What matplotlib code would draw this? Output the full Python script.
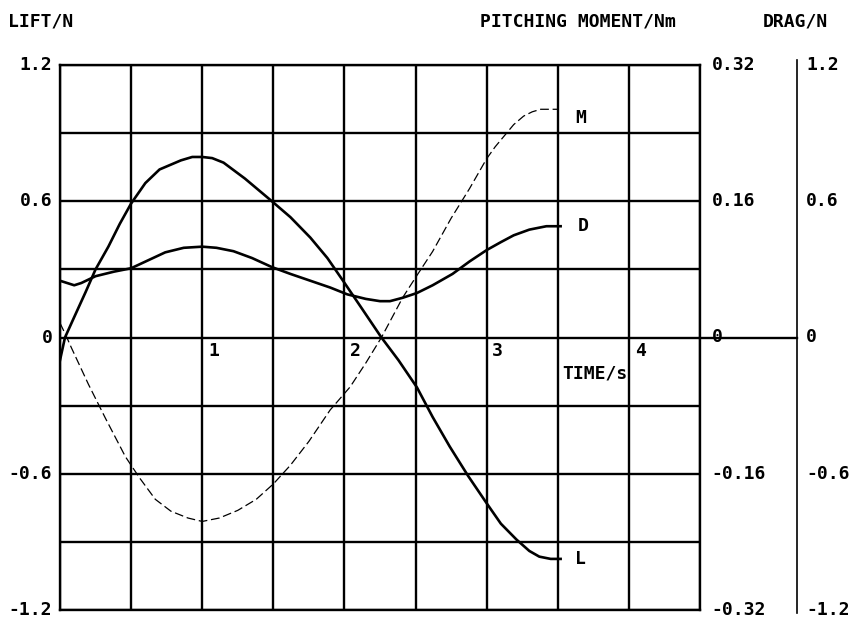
import numpy as np
from matplotlib import pyplot as plt, transforms as mtr

# values
lift_t = [0.0, 0.035, 0.1, 0.18, 0.25, 0.34, 0.42, 0.5, 0.6, 0.7, 0.85, 0.93, 1.0, 1.07,
          1.15, 1.3, 1.49, 1.62, 1.76, 1.88, 1.99, 2.12, 2.26, 2.38, 2.51, 2.62, 2.74,
          2.87, 3.0, 3.1, 3.21, 3.3, 3.37, 3.45, 3.52]
lift = [-0.10, 0.0, 0.09, 0.20, 0.30, 0.40, 0.50, 0.59, 0.68, 0.74, 0.78, 0.795, 0.795,
        0.79, 0.77, 0.70, 0.60, 0.53, 0.44, 0.35, 0.25, 0.13, 0.0, -0.10, -0.22, -0.35,
        -0.48, -0.61, -0.73, -0.82, -0.89, -0.94, -0.965, -0.975, -0.975]

drag_t = [0.0, 0.05, 0.1, 0.15, 0.25, 0.38, 0.5, 0.62, 0.74, 0.87, 1.0, 1.1, 1.22, 1.35,
          1.49, 1.62, 1.76, 1.9, 2.02, 2.15, 2.25, 2.32, 2.41, 2.51, 2.62, 2.76, 2.88,
          3.0, 3.1, 3.19, 3.3, 3.42, 3.52]
drag = [0.25, 0.24, 0.23, 0.24, 0.27, 0.29, 0.305, 0.34, 0.375, 0.395, 0.40, 0.395, 0.38,
        0.35, 0.31, 0.28, 0.25, 0.22, 0.19, 0.17, 0.16, 0.16, 0.175, 0.196, 0.23, 0.28,
        0.335, 0.385, 0.42, 0.45, 0.475, 0.49, 0.49]

mom_t = [0.0, 0.04, 0.08, 0.2, 0.32, 0.46, 0.56, 0.67, 0.78, 0.9, 1.0, 1.12, 1.25, 1.38,
         1.5, 1.62, 1.75, 1.9, 2.04, 2.15, 2.26, 2.41, 2.51, 2.62, 2.75, 2.88, 3.0, 3.06,
         3.12, 3.19, 3.26, 3.32, 3.38, 3.44, 3.5]
moment = [0.017, 0.003, -0.012, -0.055, -0.095, -0.14, -0.165, -0.19, -0.204, -0.212,
          -0.216, -0.212, -0.203, -0.19, -0.172, -0.15, -0.122, -0.085, -0.058, -0.03, 0.0,
          0.047, 0.073, 0.101, 0.14, 0.175, 0.21, 0.224, 0.236, 0.25, 0.26, 0.265, 0.268,
          0.268, 0.268]

time_ticks = [1, 2, 3, 4]
lift_ticks = [(1.2, '1.2'), (0.6, '0.6'), (0, '0'), (-0.6, '-0.6'), (-1.2, '-1.2')]
mom_ticks = [(0.32, '0.32'), (0.16, '0.16'), (0, '0'), (-0.16, '-0.16'), (-0.32, '-0.32')]
drag_ticks = [(1.2, '1.2'), (0.6, '0.6'), (0, '0'), (-0.6, '-0.6'), (-1.2, '-1.2')]

W, H = 855, 621
FONT = dict(family='DejaVu Sans Mono', fontweight='bold', fontsize=13)
LW = 1.7

fig = plt.figure(figsize=(W / 100, H / 100), dpi=100)
ax = fig.add_axes([60 / W, 1 - 610 / H, 640 / W, 545 / H])
ax.set_xlim(0, 4.5)
ax.set_ylim(-1.2, 1.2)
ax.set_xticks(np.arange(0, 4.51, 0.5))
ax.set_yticks(np.arange(-1.2, 1.21, 0.3))
ax.grid(True, color='black', lw=LW)
ax.tick_params(length=0, labelbottom=False, labelleft=False)
for s in ax.spines.values():
	s.set_linewidth(LW)

ax_m = ax.twinx()
ax_m.set_ylim(-0.32, 0.32)
ax_d = ax.twinx()
ax_d.set_ylim(-1.2, 1.2)
for a in (ax_m, ax_d):
	a.axis('off')

ax.plot(lift_t, lift, color='black', lw=1.9, zorder=5, solid_joinstyle='round')
ax_d.plot(drag_t, drag, color='black', lw=1.9, zorder=5, solid_joinstyle='round')
ax_m.plot(mom_t, moment, color='black', lw=0.9, ls=(0, (7, 3)), zorder=5)

# zero line running on to the drag axis, and the drag axis itself
xd = (797 - 60) / 640
ax.plot([1, xd], [0.5, 0.5], transform=ax.transAxes, color='black', lw=LW, clip_on=False)
ax.plot([xd, xd], [-0.005, 1.01], transform=ax.transAxes, color='black', lw=1.2, clip_on=False)

tl = mtr.blended_transform_factory(ax.transAxes, ax.transData)
for v, s in lift_ticks:
	ax.text(-0.012, v, s, transform=tl, ha='right', va='center', **FONT)
tm = mtr.blended_transform_factory(ax.transAxes, ax_m.transData)
for v, s in mom_ticks:
	ax_m.text(1.018, v, s, transform=tm, ha='left', va='center', **FONT)
td = mtr.blended_transform_factory(ax.transAxes, ax_d.transData)
for v, s in drag_ticks:
	ax_d.text(xd + 0.014, v, s, transform=td, ha='left', va='center', **FONT)

for t in time_ticks:
	ax.text(t + 0.04, -0.02, str(t), ha='left', va='top', **FONT)
ax.text(3.53, -0.12, 'TIME/s', ha='left', va='top', **FONT)

ax.text(lift_t[-1] + 0.1, lift[-1], 'L', ha='left', va='center', **FONT)
ax_d.text(drag_t[-1] + 0.12, drag[-1], 'D', ha='left', va='center', **FONT)
ax_m.text(mom_t[-1] + 0.12, moment[-1] - 0.01, 'M', ha='left', va='center', **FONT)

fig.text(8 / W, 1 - 22 / H, 'LIFT/N', ha='left', va='center', **FONT)
fig.text(480 / W, 1 - 22 / H, 'PITCHING MOMENT/Nm', ha='left', va='center', **FONT)
fig.text(763 / W, 1 - 22 / H, 'DRAG/N', ha='left', va='center', **FONT)

plt.savefig('out.png', dpi=100)
